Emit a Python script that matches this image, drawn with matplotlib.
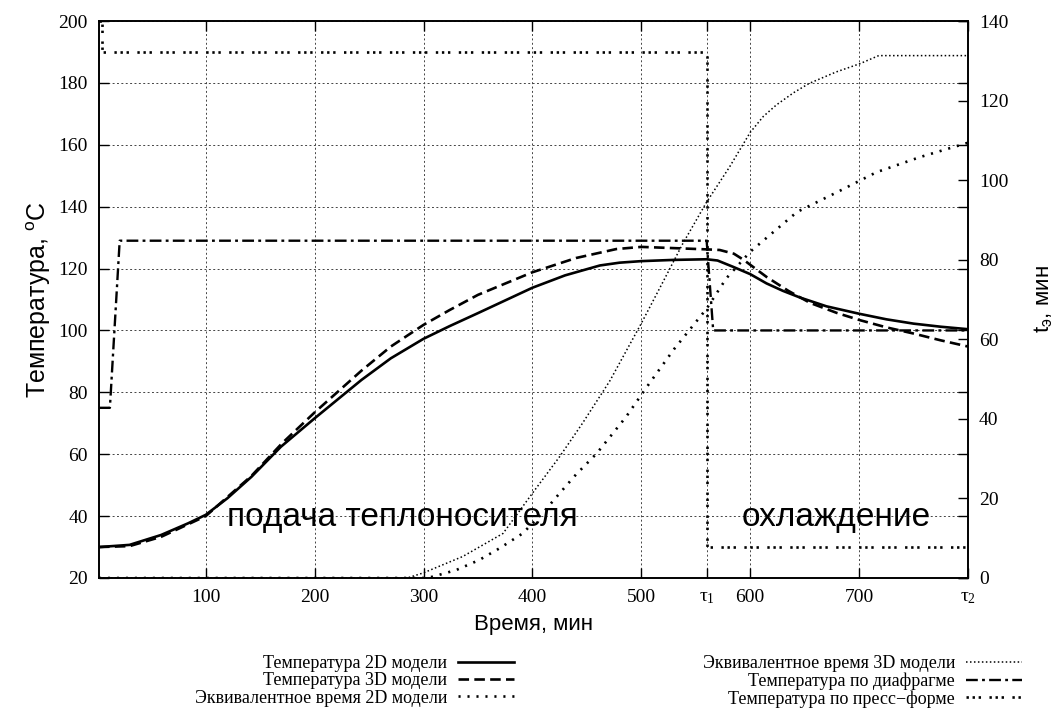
import matplotlib
matplotlib.use('Agg')
import matplotlib.pyplot as plt

###########################
# PLOT PARAMETERS
###########################
TICK_SIZE = 14
LABEL_SIZE = 16
YLABEL_SIZE = 18
LEGEND_SIZE = 13
TEXT_SIZE = 24
plt.rc('font', family='Liberation Serif', size=TICK_SIZE)
plt.rc('mathtext', fontset='custom', rm='Liberation Serif', it='Liberation Serif:italic')
plt.rc('xtick', direction='in', top=True, labelsize=TICK_SIZE)
plt.rc('ytick', direction='in', labelsize=TICK_SIZE)
plt.rc('xtick.major', size=7, width=1.0, pad=8)
plt.rc('ytick.major', size=7, width=1.0, pad=8)
plt.rc('axes', linewidth=1.2)

# data
time_2d = [2, 30, 59, 84, 100, 120, 142, 169, 200, 243, 270, 300, 324, 350, 400, 430,
           462, 480, 500, 530, 560, 570, 584, 600, 615, 630, 646, 670, 700, 725, 750,
           775, 800]
temp_2d = [30, 30.7, 33.9, 37.7, 40.4, 45.8, 52.7, 62.4, 71.6, 84, 91, 97.3, 101.4,
           105.6, 113.8, 117.8, 121, 121.9, 122.4, 122.8, 123, 122.6, 120.6, 118.2,
           115.2, 112.8, 110.6, 107.8, 105.4, 103.6, 102.2, 101.2, 100.4]

time_3d = [2, 30, 59, 100, 142, 170, 200, 243, 270, 300, 324, 350, 400, 440, 477, 500,
           530, 560, 572, 585, 594, 615, 635, 655, 680, 701, 725, 750, 775, 800]
temp_3d = [30, 30.3, 33.3, 40, 53, 63.5, 73.5, 87, 94.8, 101.8, 106.6, 111.5, 118.8,
           123.4, 126.3, 127, 126.6, 126.2, 126, 124.8, 122.8, 117.3, 112.8, 108.9,
           105.6, 103.3, 101, 99, 96.8, 94.8]

time_eq2d = [2, 300, 308, 330, 351, 370, 391, 410, 425, 440, 459, 486, 505, 530, 560,
             578, 600, 612, 643, 680, 716, 756, 800]
eq_2d = [0, 0, 0.3, 2, 4.5, 7.5, 11.2, 16.5, 21.3, 26, 31.3, 40.5, 48, 57.5, 67.7,
         75.3, 82, 84.8, 92, 97, 102, 105.8, 109.4]

time_eq3d = [2, 285, 300, 336, 373, 400, 425, 446, 471, 500, 521, 538, 560, 581, 600,
             612, 624, 640, 654, 679, 701, 718, 800]
eq_3d = [0, 0, 1.3, 5.4, 11.2, 21.3, 30.5, 38.9, 49.5, 64, 75, 84, 94.5, 103.3, 112,
         116, 118.9, 122, 124.3, 127.2, 129.3, 131.3, 131.3]

time_diaph = [2, 12, 21, 560, 566, 800]
temp_diaph = [75, 75, 129, 129, 100, 100]

time_mold = [2, 5, 5, 560, 560, 800]
temp_mold = [200, 200, 190, 190, 30, 30]

tau1 = 560
tau2 = 800
x_ticks = [100, 200, 300, 400, 500, tau1, 600, 700, tau2]
x_labels = ['100', '200', '300', '400', '500', r'$\mathregular{\tau_1}$', '600', '700',
            r'$\mathregular{\tau_2}$']

labels = ['Температура 2D модели', 'Температура 3D модели',
          'Эквивалентное время 2D модели', 'Эквивалентное время 3D модели',
          'Температура по диафрагме', 'Температура по пресс\u2212форме']

sans = 'Liberation Sans'

fig = plt.figure(figsize=(10.58, 7.16), dpi=100)
ax = fig.add_axes([99/1058, 1 - 578/716, 869/1058, 557/716])
ax2 = ax.twinx()

l1, = ax.plot(time_2d, temp_2d, color='black', lw=1.9, ls='-')
l2, = ax.plot(time_3d, temp_3d, color='black', lw=1.9, ls=(0, (4, 2)))
l3, = ax2.plot(time_eq2d, eq_2d, color='black', lw=1.9, ls=(0, (0.8, 2.6)))
l4, = ax2.plot(time_eq3d, eq_3d, color='black', lw=1.1, ls=(0, (1, 1.6)))
l5, = ax.plot(time_diaph, temp_diaph, color='black', lw=1.7, ls=(0, (5, 1.8, 1.2, 1.8)))
l6, = ax.plot(time_mold, temp_mold, color='black', lw=1.9,
              ls=(0, (0.9, 1.4, 0.9, 1.4, 0.9, 3.2)))

ax.set_xlim(2, tau2)
ax.set_ylim(20, 200)
ax2.set_ylim(0, 140)

ax.set_xticks(x_ticks)
ax.set_xticklabels(x_labels)
ax.set_yticks(range(20, 201, 20))
ax2.set_yticks(range(0, 141, 20))
ax.tick_params(axis='y', right=True)
ax2.tick_params(axis='y', right=True, left=False)

ax.grid(True, color='#444444', lw=0.7, ls=(0, (2, 2.5)))

ax.set_xlabel('Время, мин', family=sans, fontsize=LABEL_SIZE, labelpad=6)
ax.set_ylabel(r'Температура, $\mathregular{^o}$C', family=sans, fontsize=YLABEL_SIZE,
              labelpad=4)
ax2.set_ylabel(r't$\mathregular{_э}$, мин', family=sans, fontsize=LABEL_SIZE,
               rotation=90, labelpad=17)

ax.text(281, 39.4, 'подача теплоносителя', family=sans, fontsize=TEXT_SIZE,
        ha='center', va='center')
ax.text(679, 39.4, 'охлаждение', family=sans, fontsize=TEXT_SIZE,
        ha='center', va='center')

handles = [l1, l2, l3, l4, l5, l6]
leg_kw = dict(loc='upper right', markerfirst=False, frameon=False, fontsize=LEGEND_SIZE,
              handlelength=3.1, handletextpad=0.6, labelspacing=0.02, borderpad=0,
              borderaxespad=0)
legend1 = fig.legend(handles[:3], labels[:3], bbox_to_anchor=(514/1058, 1 - 655/716),
                     **leg_kw)
legend2 = fig.legend(handles[3:], labels[3:], bbox_to_anchor=(1022/1058, 1 - 655/716),
                     **leg_kw)

plt.savefig('out.png', dpi=100)
